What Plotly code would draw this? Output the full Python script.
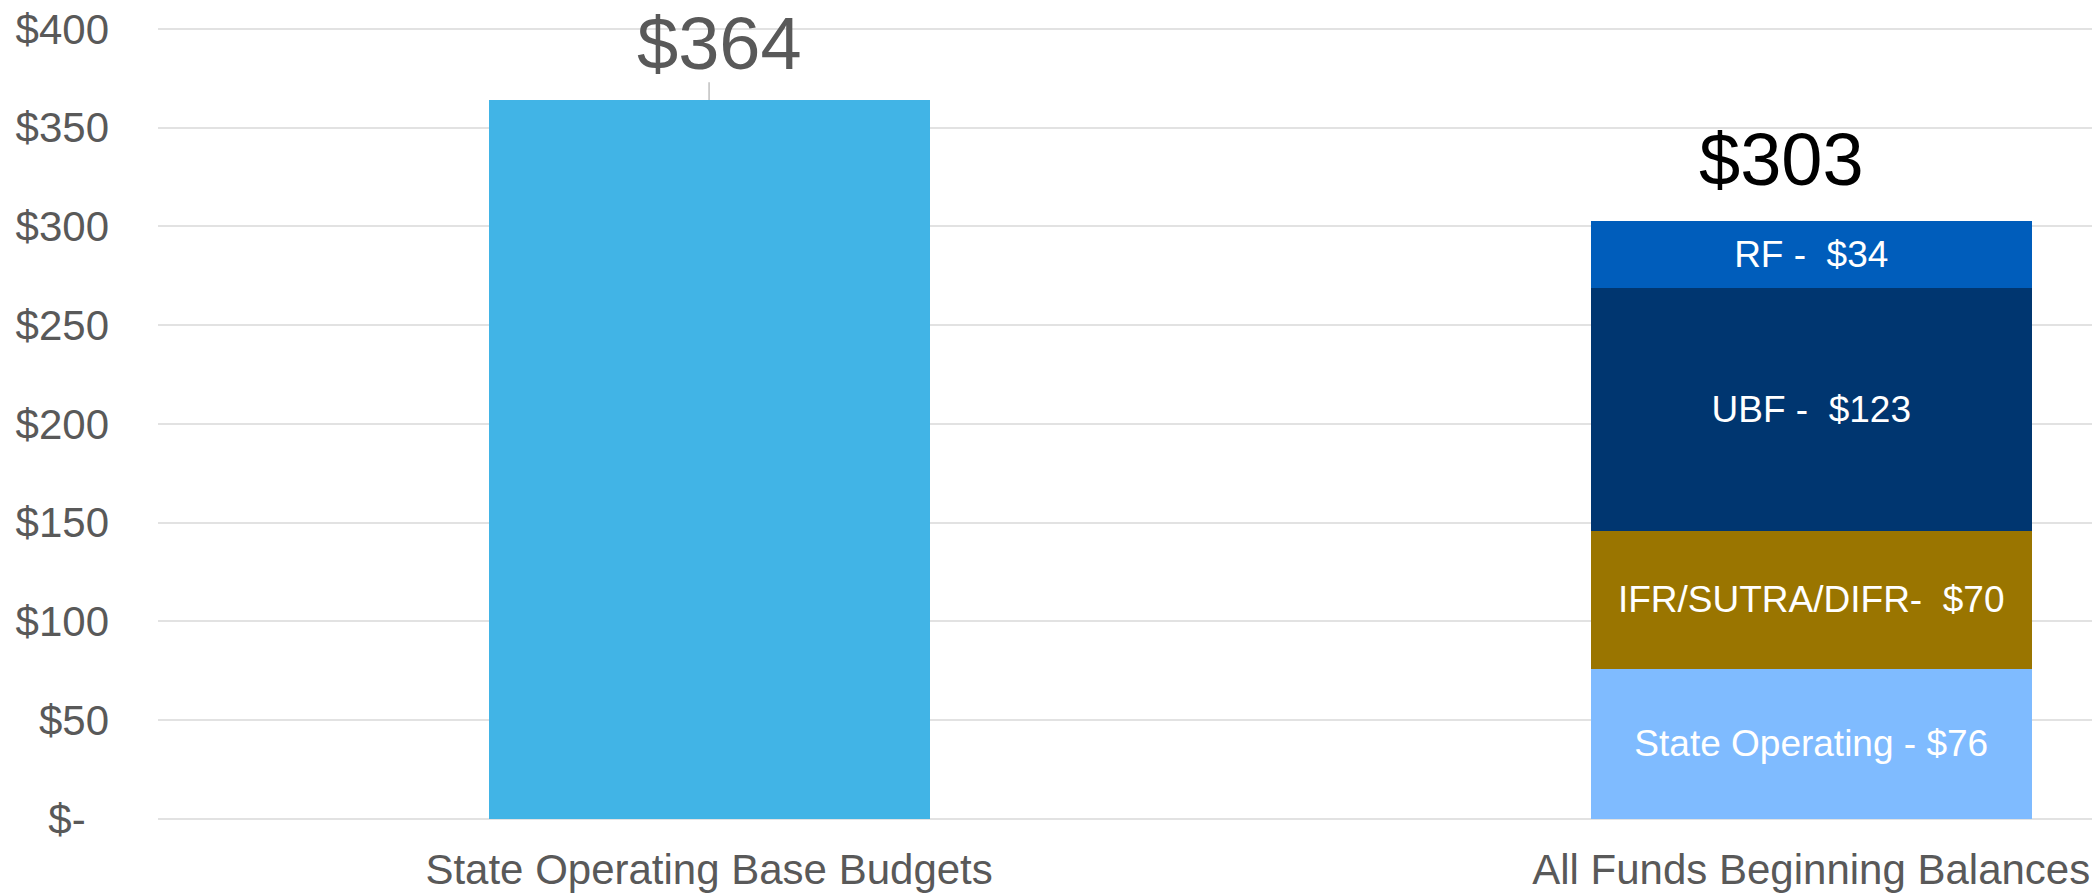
import plotly.graph_objects as go

# ---- data ----
categories = ["State Operating Base Budgets", "All Funds Beginning Balances"]
base_budget = [364]
base_label = "$364"

segment_names = ["State Operating", "IFR/SUTRA/DIFR", "UBF", "RF"]
segment_values = [76, 70, 123, 34]
segment_labels = ["State Operating - $76", "IFR/SUTRA/DIFR- \u00a0$70", "UBF - \u00a0$123", "RF - \u00a0$34"]
segment_colors = ["#7FBBFF", "#9A7500", "#003670", "#005DBB"]

y_tickvals = [0, 50, 100, 150, 200, 250, 300, 350, 400]
y_ticktext = ["$-\u00a0\u00a0", "$50", "$100", "$150", "$200", "$250", "$300", "$350", "$400"]

FONT = "Arial, Liberation Sans, sans-serif"
BAR_W = 0.4

fig = go.Figure()

fig.add_trace(go.Bar(
    x=[categories[0]], y=base_budget, width=BAR_W,
    marker=dict(color="#41B4E6", line=dict(width=0)),
    showlegend=False, hoverinfo="skip",
))

for name, val, lab, col in zip(segment_names, segment_values, segment_labels, segment_colors):
    fig.add_trace(go.Bar(
        x=[categories[1]], y=[val], width=BAR_W, name=name,
        marker=dict(color=col, line=dict(width=0)),
        text=[lab], textposition="inside", insidetextanchor="middle",
        textangle=0, textfont=dict(family=FONT, size=37, color="white"),
        constraintext="none",
        showlegend=False, hoverinfo="skip",
    ))

total = sum(segment_values)

# total labels
fig.add_annotation(x=categories[0], y=base_budget[0], text=base_label, showarrow=False,
                   xshift=10, yshift=57, yanchor="middle",
                   font=dict(family=FONT, size=74, color="#595959"))
fig.add_annotation(x=categories[1], y=total, text=f"${total}", showarrow=False,
                   xshift=-30, yshift=61, yanchor="middle",
                   font=dict(family=FONT, size=74, color="#000000"))
# leader line for the first label
fig.add_shape(type="line", xref="x", yref="y",
              x0=categories[0], x1=categories[0],
              y0=base_budget[0], y1=base_budget[0] + 9,
              line=dict(color="#BFBFBF", width=1.5))

# the page body has an 8px default margin, so the figure is 8px smaller
fig.update_layout(
    width=2092, height=887,
    margin=dict(l=150, r=0, t=17, b=76, autoexpand=False),
    barmode="stack",
    plot_bgcolor="white", paper_bgcolor="white",
    font=dict(family=FONT, color="#595959"),
    showlegend=False,
)
fig.update_xaxes(
    type="category", range=[-0.5, 1.262], automargin=False,
    showgrid=False, showline=False, zeroline=False, ticks="",
    tickfont=dict(family=FONT, size=42, color="#595959"),
    ticklabelstandoff=22, ticklabeloverflow="allow",
)
fig.update_yaxes(
    range=[0, 402], tickvals=y_tickvals, ticktext=y_ticktext, automargin=False,
    showgrid=True, gridcolor="#E2E2E2", gridwidth=2,
    zeroline=True, zerolinecolor="#E2E2E2", zerolinewidth=2,
    showline=False, ticks="",
    tickfont=dict(family=FONT, size=42, color="#595959"),
    ticklabelstandoff=48, ticklabeloverflow="allow",
)

fig.write_html("out.html")
